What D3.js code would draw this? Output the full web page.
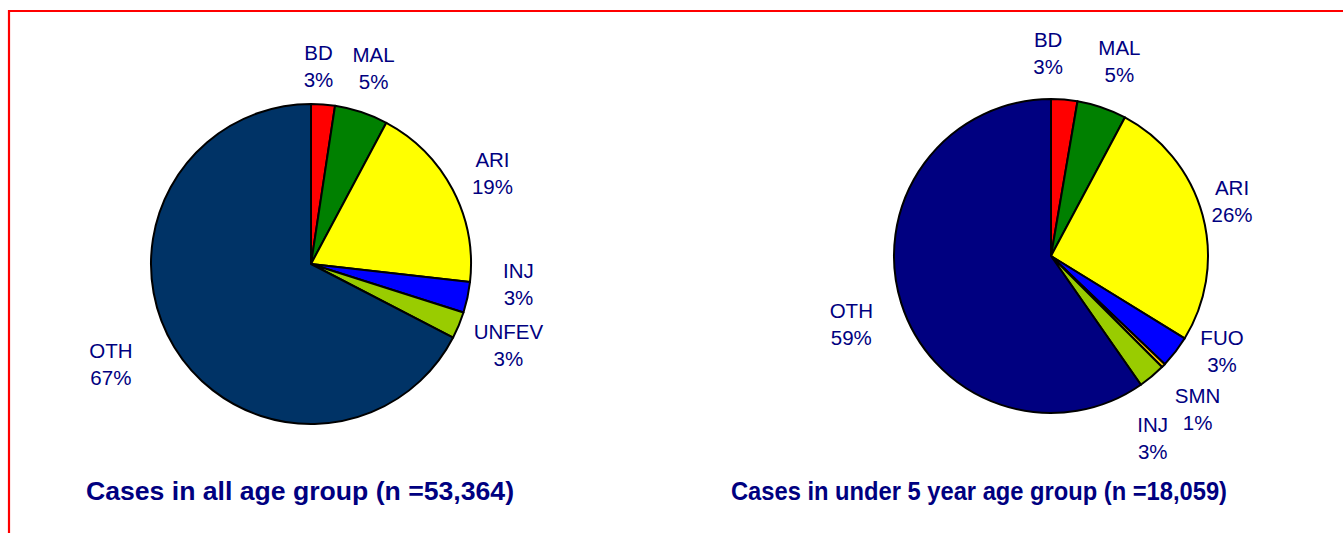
<!DOCTYPE html>
<html>
<head>
<meta charset="utf-8">
<script src="https://cdn.jsdelivr.net/npm/d3@7"></script>
<style>
  html, body { margin: 0; padding: 0; background: #fff; }
  svg { display: block; }
</style>
</head>
<body>
<svg id="chart" width="1343" height="533"></svg>
<script>
// ---- data ----
const leftCategories = ["BD", "MAL", "ARI", "INJ", "UNFEV", "OTH"];
const leftValues     = [2.4, 5.4, 19.0, 3.1, 2.7, 67.4];
const leftPctLabels  = ["3%", "5%", "19%", "3%", "3%", "67%"];
const leftTitle      = "Cases in all age group (n =53,364)";

const rightCategories = ["BD", "MAL", "ARI", "FUO", "SMN", "INJ", "OTH"];
const rightValues     = [2.7, 5.1, 26.0, 3.3, 0.4, 2.8, 59.7];
const rightPctLabels  = ["3%", "5%", "26%", "3%", "1%", "3%", "59%"];
const rightTitle      = "Cases in under 5 year age group (n =18,059)";

// ---- styles / layout ----
const colorMap = {
  BD: "#FF0000", MAL: "#008000", ARI: "#FFFF00", INJ: "#0000FF",
  UNFEV: "#99CC00", FUO: "#0000FF", SMN: "#FFCC00"
};
const leftColors  = Object.assign({}, colorMap, { OTH: "#003366" });
const rightColors = Object.assign({}, colorMap, { INJ: "#99CC00", OTH: "#000080" });

const leftNudges  = [[-8, 7], [-2, -1], [0, 5], [7, -22], [8, 3], [-25, -6]];
const rightNudges = [[-20, -1], [3, -3], [-14, -2], [11, -28], [2, 12], [-28, 28], [-7, 8]];

const textColor = "#000080";
const svg = d3.select("#chart");

// red frame (top + left)
svg.append("path")
  .attr("d", "M9,533 L9,11 L1343,11")
  .attr("fill", "none")
  .attr("stroke", "#FF0000")
  .attr("stroke-width", 2.2);

function drawPie(cfg) {
  const g = svg.append("g").attr("transform", `translate(${cfg.cx},${cfg.cy})`);
  const data = cfg.categories.map((c, i) => ({ cat: c, value: cfg.values[i], pct: cfg.pcts[i], nudge: cfg.nudges[i] }));
  const pie = d3.pie().value(d => d.value).sort(null).startAngle(0).endAngle(2 * Math.PI);
  const arcs = pie(data);
  const arc = d3.arc().innerRadius(0).outerRadius(cfg.r);
  const labelArc = d3.arc().innerRadius(cfg.r + 45).outerRadius(cfg.r + 45);

  g.selectAll("path.slice").data(arcs).join("path")
    .attr("class", "slice")
    .attr("d", arc)
    .attr("fill", d => cfg.colors[d.data.cat])
    .attr("stroke", "#000")
    .attr("stroke-width", 2)
    .attr("stroke-linejoin", "round");

  const lbl = g.selectAll("text.lbl").data(arcs).join("text")
    .attr("class", "lbl")
    .attr("text-anchor", "middle")
    .attr("font-family", "'Liberation Sans', Arial, sans-serif")
    .attr("font-size", 20.5)
    .attr("fill", textColor)
    .attr("transform", d => {
      const c = labelArc.centroid(d);
      return `translate(${c[0] + d.data.nudge[0]},${c[1] + d.data.nudge[1] - 6.5})`;
    });
  lbl.append("tspan").attr("x", 0).attr("y", 0).text(d => d.data.cat);
  lbl.append("tspan").attr("x", 0).attr("y", 27).text(d => d.data.pct);

  svg.append("text")
    .attr("x", cfg.titleX).attr("y", 500)
    .attr("text-anchor", "middle")
    .attr("font-family", "'Liberation Sans', Arial, sans-serif")
    .attr("font-weight", "bold")
    .attr("font-size", 26)
    .attr("textLength", cfg.titleW)
    .attr("lengthAdjust", "spacingAndGlyphs")
    .attr("fill", textColor)
    .text(cfg.title);
}

drawPie({ cx: 311, cy: 264, r: 160, categories: leftCategories, values: leftValues,
  pcts: leftPctLabels, colors: leftColors, nudges: leftNudges, title: leftTitle, titleX: 300, titleW: 428 });
drawPie({ cx: 1051, cy: 256, r: 157, categories: rightCategories, values: rightValues,
  pcts: rightPctLabels, colors: rightColors, nudges: rightNudges, title: rightTitle, titleX: 979, titleW: 496 });
</script>
</body>
</html>
